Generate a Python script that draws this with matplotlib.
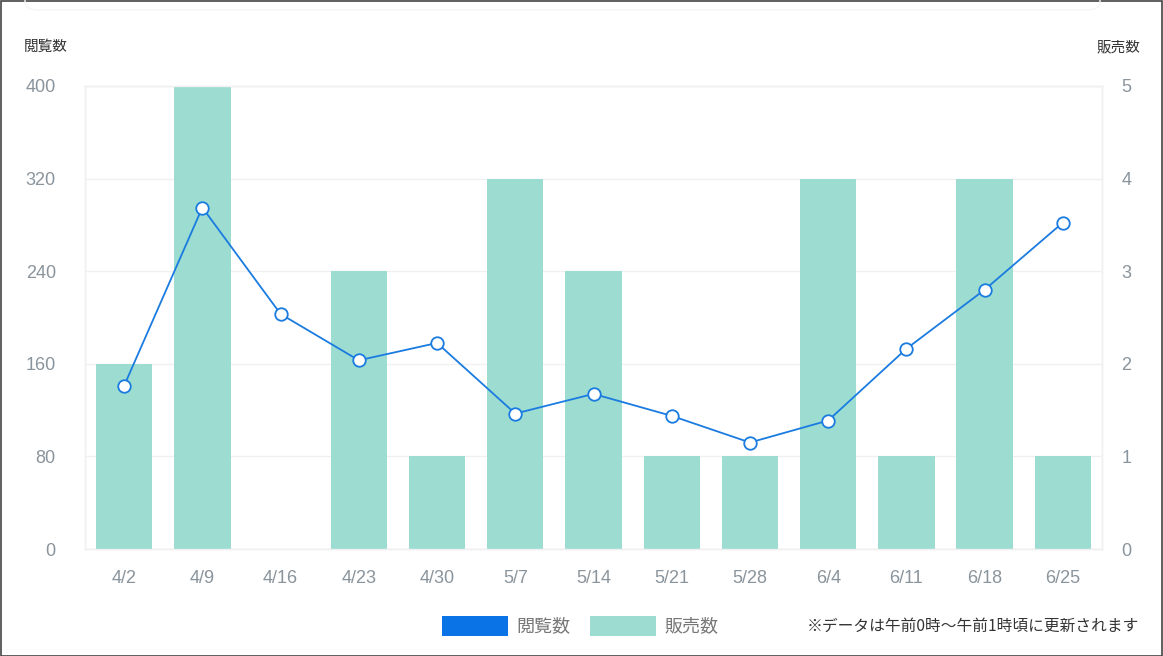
import matplotlib
matplotlib.use("Agg")
import matplotlib.pyplot as plt
from matplotlib.patches import Rectangle, FancyBboxPatch

plt.rcParams["font.family"] = ["Noto Sans CJK JP", "DejaVu Sans"]

dates = ["4/2", "4/9", "4/16", "4/23", "4/30", "5/7", "5/14", "5/21", "5/28", "6/4", "6/11", "6/18", "6/25"]
views = [141, 295, 203, 163, 178, 117, 134, 115, 92, 111, 173, 224, 282]
sales = [2, 5, 0, 3, 1, 4, 3, 1, 1, 4, 1, 4, 1]
left_ticks = [0, 80, 160, 240, 320, 400]
right_ticks = [0, 1, 2, 3, 4, 5]

bar_color = "#9cdcd1"
line_color = "#1a7be0"
tick_color = "#8a949c"

W, H = 1163, 656
fig = plt.figure(figsize=(W / 100, H / 100), dpi=100)

# outer frame and faint card edge
fig.patches.append(Rectangle((0.5 / W, 0.5 / H), 1 - 1.5 / W, 1 - 1.5 / H, transform=fig.transFigure,
                             fill=False, edgecolor="#444444", linewidth=1.2))
fig.patches.append(FancyBboxPatch((25 / W, 1 - 10 / H), (1100 - 25) / W, 30 / H,
                                  boxstyle="round,pad=0,rounding_size=0.012", transform=fig.transFigure,
                                  fill=False, edgecolor="#f6f6f6", linewidth=1))

ax = fig.add_axes([85 / W, 1 - 549 / H, (1102 - 85) / W, (549 - 86) / H])
ax2 = ax.twinx()

x = range(len(dates))
ax2.bar(x, sales, width=0.72, color=bar_color, zorder=2)
ax2.set_ylim(0, 5)
ax2.set_yticks(right_ticks)
ax.set_ylim(0, 400)
ax.set_yticks(left_ticks)
ax.set_xlim(-0.5, len(dates) - 0.5)
ax.set_xticks(list(x))
ax.set_xticklabels(dates)

# line on top of bars: draw on ax2 using scaled values
ax2.plot(x, [v / 80 for v in views], color=line_color, linewidth=1.3, marker="o", markersize=9,
         markerfacecolor="white", markeredgecolor=line_color, markeredgewidth=1.3, zorder=4, clip_on=False)

for a in (ax, ax2):
    for s in a.spines.values():
        s.set_color("#f0f0f0")
        s.set_linewidth(1)
    a.tick_params(length=0, labelsize=13, colors=tick_color)
    for lab in a.get_xticklabels() + a.get_yticklabels():
        lab.set_fontfamily("Liberation Sans")
ax.tick_params(axis="y", pad=21)
ax2.tick_params(axis="y", pad=14)
ax.tick_params(axis="x", pad=15)
ax.grid(axis="y", color="#f0f0f0", linewidth=1, zorder=0)
ax.set_axisbelow(True)

fig.text(24 / W, 1 - 47 / H, "閲覧数", fontsize=10.5, color="#333333", va="center", ha="left")
fig.text(1140 / W, 1 - 47 / H, "販売数", fontsize=10.5, color="#333333", va="center", ha="right")

# legend
fig.patches.append(Rectangle((442 / W, 1 - 636 / H), 66 / W, 20 / H, transform=fig.transFigure,
                             facecolor="#0a74e6", edgecolor="none"))
fig.text(516 / W, 1 - 626 / H, "閲覧数", fontsize=13, color="#777777", va="center", ha="left")
fig.patches.append(Rectangle((590 / W, 1 - 636 / H), 66 / W, 20 / H, transform=fig.transFigure,
                             facecolor=bar_color, edgecolor="none"))
fig.text(664 / W, 1 - 626 / H, "販売数", fontsize=13, color="#777777", va="center", ha="left")
fig.text(1139 / W, 1 - 626 / H, "※データは午前0時～午前1時頃に更新されます", fontsize=11.3,
         color="#333333", va="center", ha="right")

fig.savefig("out.png", dpi=100)
